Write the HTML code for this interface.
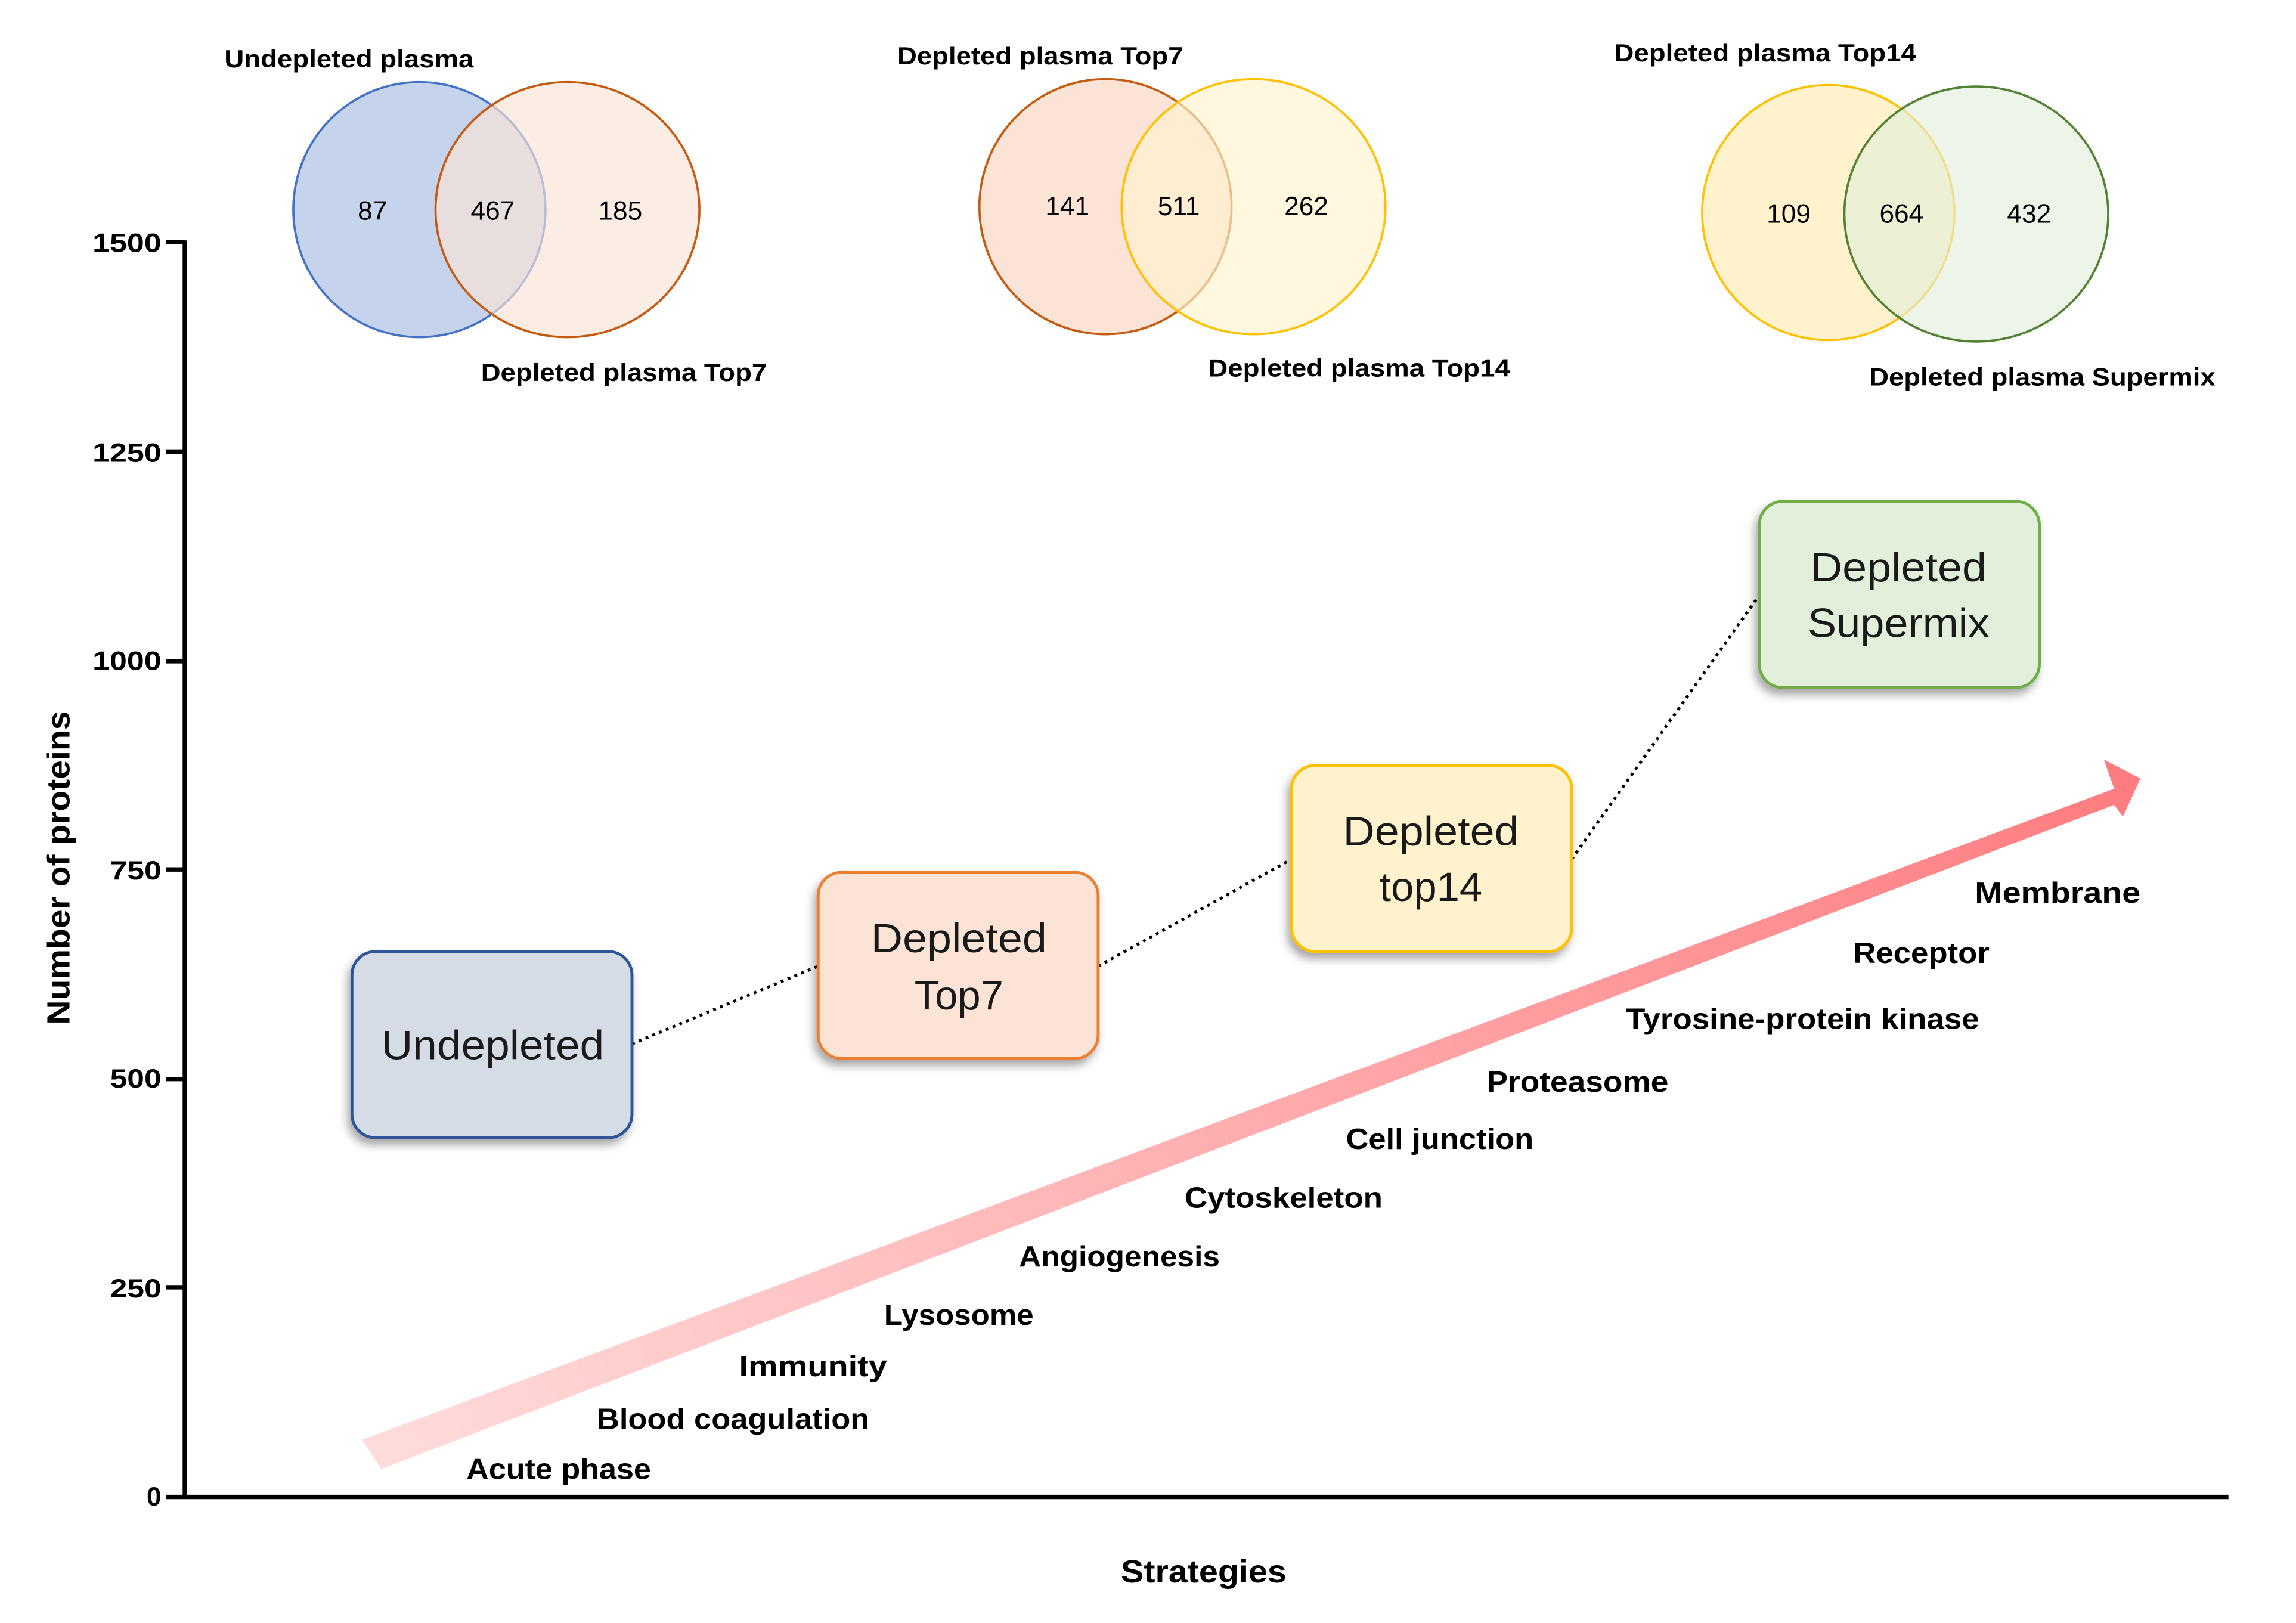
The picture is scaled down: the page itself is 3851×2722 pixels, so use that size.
<!DOCTYPE html>
<html><head><meta charset="utf-8"><style>html,body{margin:0;padding:0;background:#fff}svg{display:block}</style></head>
<body>
<svg width="3851" height="2722" viewBox="0 0 1566 1107" xmlns="http://www.w3.org/2000/svg" font-family="Liberation Sans, sans-serif">
<defs>
<linearGradient id="ag" x1="254" y1="993" x2="1458" y2="530" gradientUnits="userSpaceOnUse">
<stop offset="0" stop-color="#ffdcdc"/><stop offset="1" stop-color="#ff7c80"/></linearGradient>
<filter id="sh" x="-20%" y="-20%" width="140%" height="140%"><feDropShadow dx="-2" dy="4" stdDeviation="3" flood-color="#000" flood-opacity="0.35"/></filter>
</defs>
<rect width="1566" height="1107" fill="#fff"/>
<g stroke="#000" stroke-width="3">
<line x1="126" y1="164" x2="126" y2="1022"/>
<line x1="113" y1="1021" x2="1520" y2="1021"/>
<line x1="113" y1="165" x2="126" y2="165"/><line x1="113" y1="308" x2="126" y2="308"/>
<line x1="113" y1="451" x2="126" y2="451"/><line x1="113" y1="593" x2="126" y2="593"/>
<line x1="113" y1="736" x2="126" y2="736"/><line x1="113" y1="878" x2="126" y2="878"/>
</g>
<g font-size="18" font-weight="bold" text-anchor="end" dominant-baseline="central">
<text x="110" y="166" textLength="47" lengthAdjust="spacingAndGlyphs">1500</text>
<text x="110" y="309" textLength="47" lengthAdjust="spacingAndGlyphs">1250</text>
<text x="110" y="451" textLength="47" lengthAdjust="spacingAndGlyphs">1000</text>
<text x="110" y="594" textLength="35" lengthAdjust="spacingAndGlyphs">750</text>
<text x="110" y="736" textLength="35" lengthAdjust="spacingAndGlyphs">500</text>
<text x="110" y="879" textLength="35" lengthAdjust="spacingAndGlyphs">250</text>
<text x="110" y="1021">0</text>
</g>
<text transform="translate(40,592) rotate(-90)" text-anchor="middle" dominant-baseline="central" font-size="22" font-weight="bold" textLength="214" lengthAdjust="spacingAndGlyphs">Number of proteins</text>
<text x="821" y="1072" text-anchor="middle" dominant-baseline="central" font-size="22" font-weight="bold" textLength="113" lengthAdjust="spacingAndGlyphs">Strategies</text>
<ellipse cx="286" cy="143" rx="86" ry="87" fill="#c5d3ec" stroke="#4472c4" stroke-width="1.5"/>
<ellipse cx="387" cy="143" rx="90" ry="87" fill="#fbe3d6" fill-opacity="0.65" stroke="#c55a11" stroke-width="1.5"/>
<ellipse cx="754" cy="141" rx="86" ry="87" fill="#fbe3d6" stroke="#c55a11" stroke-width="1.5"/>
<ellipse cx="855" cy="141" rx="90" ry="87" fill="#fff2cc" fill-opacity="0.65" stroke="#ffc000" stroke-width="1.5"/>
<ellipse cx="1247" cy="145" rx="86" ry="87" fill="#fff2cc" stroke="#ffc000" stroke-width="1.5"/>
<ellipse cx="1348" cy="146" rx="90" ry="87" fill="#e2efda" fill-opacity="0.65" stroke="#548235" stroke-width="1.5"/>
<g font-size="18" text-anchor="middle" dominant-baseline="central">
<text x="254" y="144">87</text><text x="336" y="144">467</text><text x="423" y="144">185</text>
<text x="728" y="141">141</text><text x="804" y="141">511</text><text x="891" y="141">262</text>
<text x="1220" y="146">109</text><text x="1297" y="146">664</text><text x="1384" y="146">432</text>
</g>
<g font-size="17" font-weight="bold" dominant-baseline="central">
<text x="153" y="40" textLength="170" lengthAdjust="spacingAndGlyphs">Undepleted plasma</text>
<text x="328" y="254" textLength="195" lengthAdjust="spacingAndGlyphs">Depleted plasma Top7</text>
<text x="612" y="38" textLength="195" lengthAdjust="spacingAndGlyphs">Depleted plasma Top7</text>
<text x="824" y="251" textLength="206" lengthAdjust="spacingAndGlyphs">Depleted plasma Top14</text>
<text x="1101" y="36" textLength="206" lengthAdjust="spacingAndGlyphs">Depleted plasma Top14</text>
<text x="1275" y="257" textLength="236" lengthAdjust="spacingAndGlyphs">Depleted plasma Supermix</text>
</g>
<polygon points="247,982 1442,538 1435,518 1460,531 1448,557 1442,549 260,1002" fill="url(#ag)"/>
<g stroke="#000" stroke-width="2" stroke-dasharray="2,3">
<line x1="431" y1="712" x2="558" y2="659"/><line x1="749" y1="659" x2="881" y2="586"/><line x1="1072" y1="586" x2="1200" y2="406"/>
</g>
<g stroke-width="2" filter="url(#sh)">
<rect x="240" y="649" width="191" height="127" rx="16" fill="#d6dce5" stroke="#2f5597"/>
<rect x="558" y="595" width="191" height="127" rx="16" fill="#fbe3d6" stroke="#ed7d31"/>
<rect x="881" y="522" width="191" height="127" rx="16" fill="#fff2cc" stroke="#ffc000"/>
<rect x="1200" y="342" width="191" height="127" rx="16" fill="#e2efda" stroke="#70ad47"/>
</g>
<g font-size="28" text-anchor="middle" dominant-baseline="central" fill="#1a1a1a">
<text x="336" y="713" textLength="152" lengthAdjust="spacingAndGlyphs">Undepleted</text>
<text x="654" y="640" textLength="120" lengthAdjust="spacingAndGlyphs">Depleted</text><text x="654" y="679">Top7</text>
<text x="976" y="567" textLength="120" lengthAdjust="spacingAndGlyphs">Depleted</text><text x="976" y="605">top14</text>
<text x="1295" y="387" textLength="120" lengthAdjust="spacingAndGlyphs">Depleted</text><text x="1295" y="425" textLength="124" lengthAdjust="spacingAndGlyphs">Supermix</text>
</g>
<g font-size="20" font-weight="bold" dominant-baseline="central">
<text x="318" y="1002" textLength="126" lengthAdjust="spacingAndGlyphs">Acute phase</text>
<text x="407" y="968" textLength="186" lengthAdjust="spacingAndGlyphs">Blood coagulation</text>
<text x="504" y="932" textLength="101" lengthAdjust="spacingAndGlyphs">Immunity</text>
<text x="603" y="897" textLength="102" lengthAdjust="spacingAndGlyphs">Lysosome</text>
<text x="695" y="857" textLength="137" lengthAdjust="spacingAndGlyphs">Angiogenesis</text>
<text x="808" y="817" textLength="135" lengthAdjust="spacingAndGlyphs">Cytoskeleton</text>
<text x="918" y="777" textLength="128" lengthAdjust="spacingAndGlyphs">Cell junction</text>
<text x="1014" y="738" textLength="124" lengthAdjust="spacingAndGlyphs">Proteasome</text>
<text x="1109" y="695" textLength="241" lengthAdjust="spacingAndGlyphs">Tyrosine-protein kinase</text>
<text x="1264" y="650" textLength="93" lengthAdjust="spacingAndGlyphs">Receptor</text>
<text x="1347" y="609" textLength="113" lengthAdjust="spacingAndGlyphs">Membrane</text>
</g>
</svg>
</body></html>
